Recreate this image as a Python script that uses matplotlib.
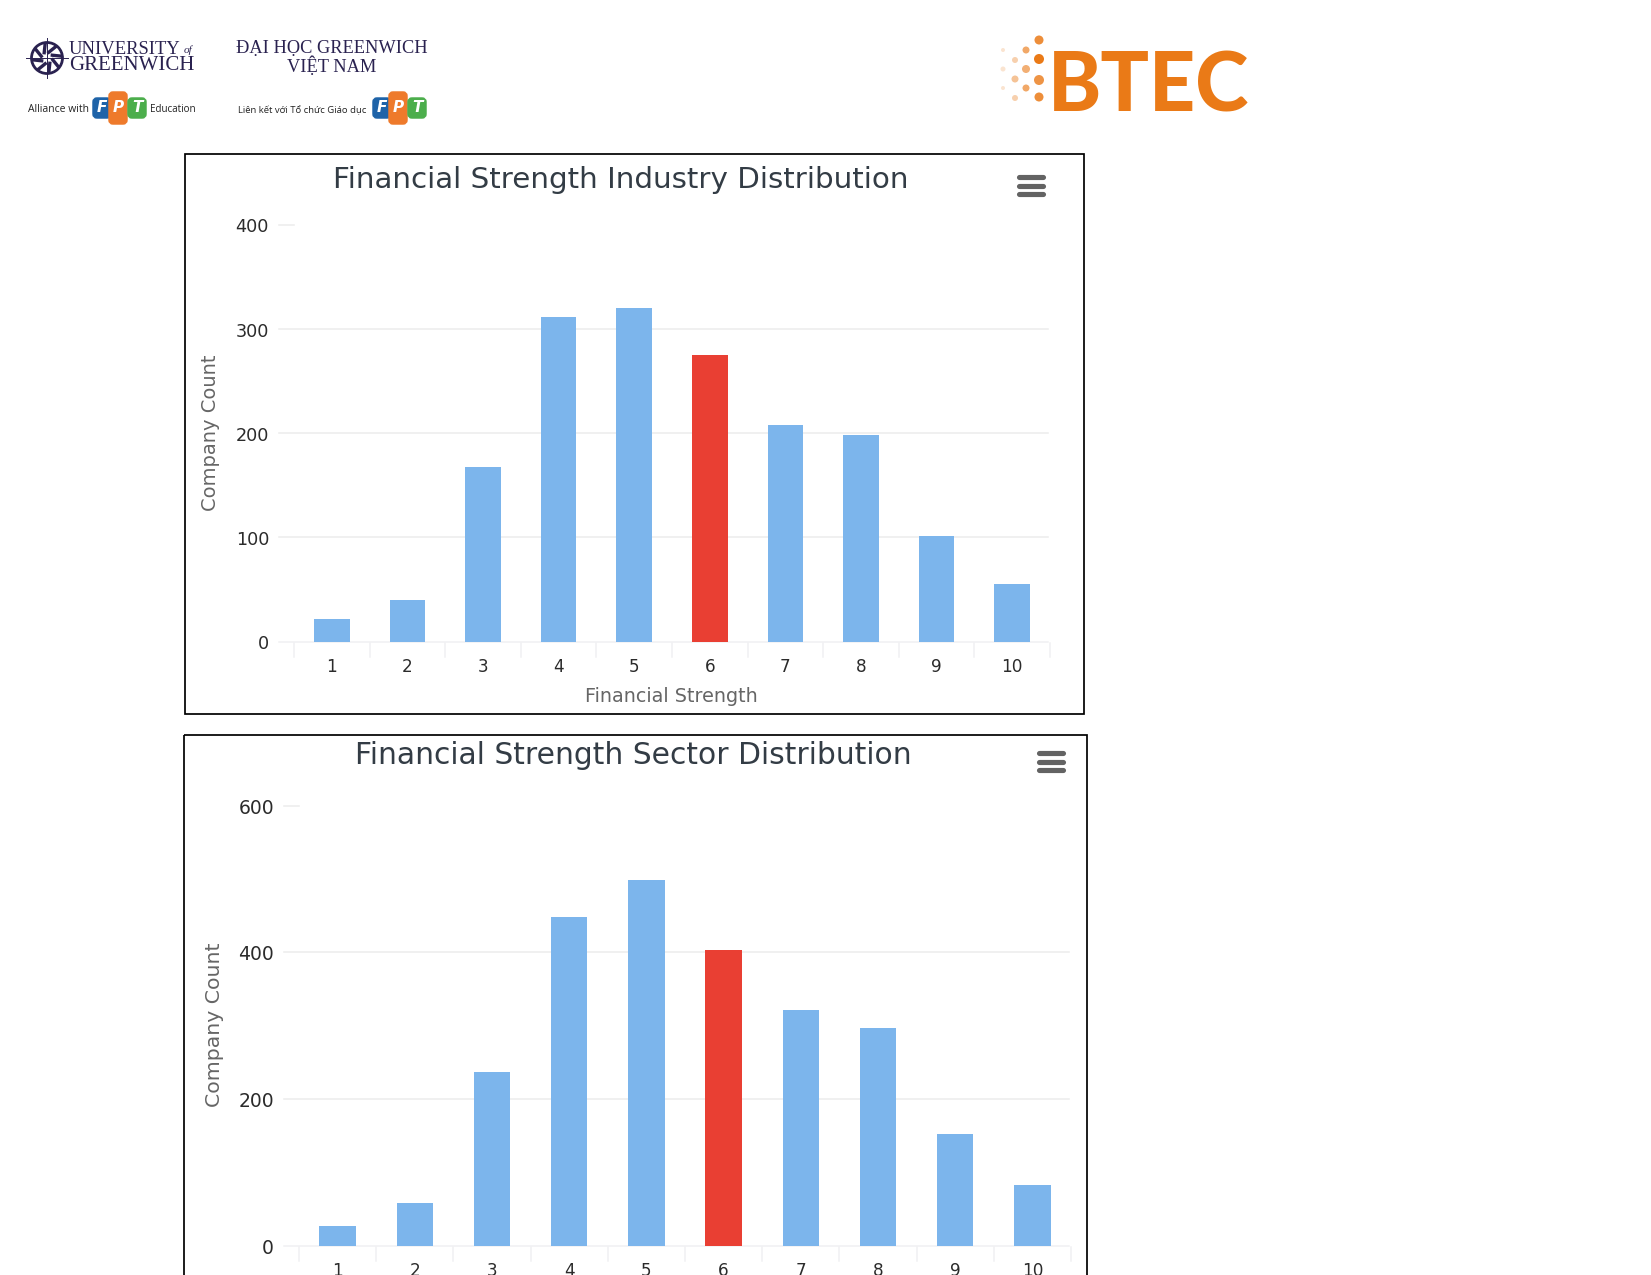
import matplotlib
matplotlib.use("Agg")
import matplotlib.pyplot as plt
from matplotlib.patches import Rectangle, Circle, FancyBboxPatch
import math

W, H = 1651, 1275
categories = [1, 2, 3, 4, 5, 6, 7, 8, 9, 10]
industry_counts = [22, 40, 168, 312, 320, 275, 208, 198, 101, 55]
sector_counts = [27, 58, 237, 448, 498, 403, 322, 297, 152, 83]
highlight = 6
industry_ticks = [0, 100, 200, 300, 400]
sector_ticks = [0, 200, 400, 600]
BLUE, RED = "#7cb5ec", "#e93f33"

plt.rcParams["font.family"] = ["DejaVu Sans"]
fig = plt.figure(figsize=(W / 100, H / 100), dpi=100, facecolor="white")

bg = fig.add_axes([0, 0, 1, 1], zorder=0)
bg.set_xlim(0, W); bg.set_ylim(H, 0); bg.axis("off")


def chart(box, axis_box, ymax, values, ticks, title, title_size, tx, ty, burger, xlabel, ylabel, ytick_x, ytick_size):
    x0, y0, x1, y1 = box
    bg.add_patch(Rectangle((x0, y0), x1 - x0, y1 - y0, fill=False, ec="black", lw=1.25))
    ax0, ay0, ax1, ay1 = axis_box  # left, top (ymax), right, bottom (0)
    ax = fig.add_axes([ax0 / W, 1 - ay1 / H, (ax1 - ax0) / W, (ay1 - ay0) / H], zorder=1)
    ax.patch.set_alpha(0)
    colors = [RED if c == highlight else BLUE for c in categories]
    ax.bar(categories, values, width=0.47, color=colors, zorder=3, clip_on=False)
    ax.set_xlim(0.5, 10.5); ax.set_ylim(0, ymax)
    ax.axis("off")
    for t in ticks:
        py = ay1 - (ay1 - ay0) * t / ymax
        right = ax0 if t == ticks[-1] else ax1 - 2
        col = "#f0f0f2" if t == 0 else "#ececec"
        bg.plot([ax0 - 15, right], [py, py], color=col, lw=1.1)
        bg.text(ytick_x, py + 2.5, str(t), ha="right", va="center", fontsize=ytick_size, color="#2b2b2b")
    for i in range(11):
        px = ax0 + (ax1 - ax0) * i / 10
        bg.plot([px, px], [ay1 + 1, ay1 + 15], color="#f0f0f2", lw=1.1)
    for c in categories:
        px = ax0 + (ax1 - ax0) * (c - 0.5) / 10
        bg.text(px, ay1 + 25, str(c), ha="center", va="center", fontsize=12.2, color="#2b2b2b")
    bg.text(tx, ty, title, ha="center", va="center", fontsize=title_size, color="#333c45")
    for k in range(3):
        yy = burger[1] + k * 8.7
        bg.plot([burger[0] + 2, burger[0] + 26], [yy, yy], color="#636363", lw=3.7, solid_capstyle="round")
    if xlabel:
        bg.text(xlabel[0], xlabel[1], "Financial Strength", ha="center", va="center", fontsize=13.8, color="#666666")
    bg.text(ylabel[0], ylabel[1], "Company Count", rotation=90, ha="center", va="center", fontsize=ylabel[2], color="#666666")


chart((185, 153.7, 1083.5, 714), (294, 225, 1050, 641.5), 400, industry_counts, industry_ticks,
      "Financial Strength Industry Distribution", 21.2, 621, 180, (1017, 177), (671, 697), (211, 433, 14), 269, 12.7)
chart((183.7, 735, 1087, 1290), (299, 805.5, 1071, 1246), 600, sector_counts, sector_ticks,
      "Financial Strength Sector Distribution", 21.4, 633, 756, (1037, 753), None, (214, 1025, 14.7), 274, 13.5)

# --- logos ---
NAVY = "#2a2250"
serif = "Liberation Serif"
bg.add_patch(Circle((47, 58), 15.5, fill=False, ec=NAVY, lw=2.0))
for k in range(8):
    a = k * math.pi / 4 + 0.3
    bg.plot([47 + 6 * math.cos(a), 47 + 14 * math.cos(a + .35)], [58 + 6 * math.sin(a), 58 + 14 * math.sin(a + .35)], color=NAVY, lw=2.4)
bg.plot([26, 68], [58, 58], color=NAVY, lw=0.7)
bg.plot([47, 47], [38, 78], color=NAVY, lw=0.7)
bg.text(69, 49, "UNIVERSITY", family=serif, fontsize=13.4, color=NAVY, va="center")
bg.text(184, 50, "of", family=serif, fontsize=8, style="italic", color=NAVY, va="center")
bg.text(69, 66, "GREENWICH", family=serif, fontsize=15, color=NAVY, va="center")
bg.text(332, 48, "ĐẠI HỌC GREENWICH", family=serif, fontsize=13.2, color=NAVY, va="center", ha="center")
bg.text(332, 66.5, "VIỆT NAM", family=serif, fontsize=13.2, color=NAVY, va="center", ha="center")
bg.text(28, 110, "Alliance with", family="Open Sans", fontsize=7.5, color="#222222", va="center")
bg.text(150, 110, "Education", family="Open Sans", fontsize=7.1, color="#222222", va="center")
bg.text(238, 110, "Liên kết với Tổ chức Giáo dục", family="Open Sans", fontsize=6.8, color="#222222", va="center")


def fpt(x):
    for dx, top, bot, col, ch in [(0, 97, 119, "#1e63a8", "F"), (16, 91, 125, "#ee7a2b", "P"), (35, 97, 119, "#4cae4c", "T")]:
        bg.add_patch(FancyBboxPatch((x + dx + 2, top + 2), 16, bot - top - 4, boxstyle="round,pad=0,rounding_size=3",
                                    color=col, lw=2.5,
                                    mutation_aspect=1))
        bg.text(x + dx + 10, (top + bot) / 2, ch, color="white", fontsize=11, fontweight="bold", style="italic", ha="center", va="center")


fpt(92)
fpt(372)

OR = "#ea7a17"
bg.text(1048, 88, "BTEC", family="Lato", fontsize=58, fontweight="black", color=OR, va="center", ha="left")
dots = [(1039, 40, 4.5, .85), (1026, 50, 3.5, .65), (1039, 59, 5, 1), (1015, 60, 3, .35), (1003, 50, 2, .2),
        (1026, 69, 4, .6), (1039, 80, 5, .8), (1015, 79, 3.5, .45), (1003, 69, 2.5, .2),
        (1026, 88, 3.5, .65), (1039, 97, 4.5, .85), (1015, 98, 3, .35), (1003, 88, 2, .2)]
for x, y, r, a in dots:
    bg.add_patch(Circle((x, y), r, color=OR, alpha=a, lw=0))

fig.savefig("out.png", dpi=100, facecolor="white")
